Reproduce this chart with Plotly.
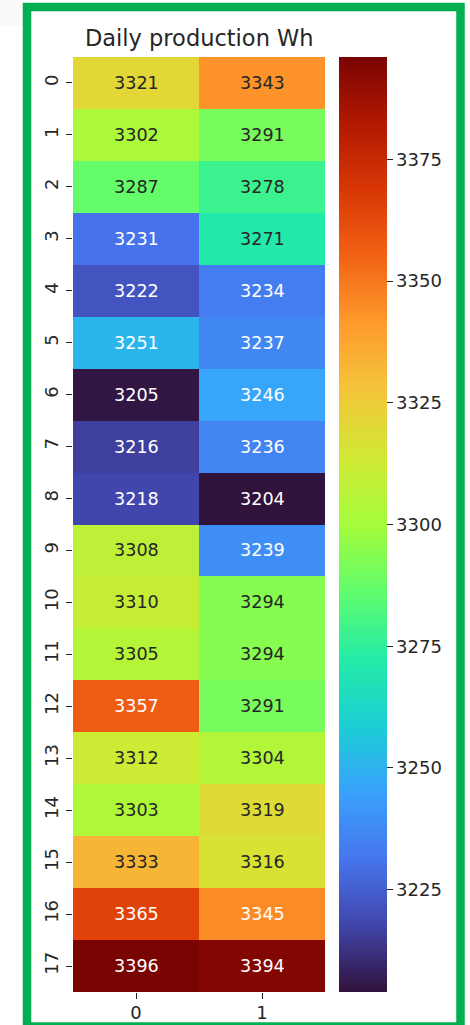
import plotly.graph_objects as go
from plotly.colors import sample_colorscale, sequential

# Daily production (Wh), 18 days x 2 units
days = list(range(18))
units = [0, 1]
unit0 = [3321, 3302, 3287, 3231, 3222, 3251, 3205, 3216, 3218, 3308,
         3310, 3305, 3357, 3312, 3303, 3333, 3365, 3396]
unit1 = [3343, 3291, 3278, 3271, 3234, 3237, 3246, 3236, 3204, 3239,
         3294, 3294, 3291, 3304, 3319, 3316, 3345, 3394]
cbar_ticks = [3225, 3250, 3275, 3300, 3325, 3350, 3375]

z = [[a, b] for a, b in zip(unit0, unit1)]
zmin = min(unit0 + unit1)
zmax = max(unit0 + unit1)

turbo = sequential.Turbo
n = len(turbo)
colorscale = [[i / (n - 1), c] for i, c in enumerate(turbo)]

FONT = "DejaVu Sans"
DARK = "#262626"


def rel_lum(rgb_str):
    vals = rgb_str[rgb_str.index("(") + 1:rgb_str.index(")")].split(",")
    out = []
    for v in vals[:3]:
        c = float(v) / 255.0
        c = c / 12.92 if c <= 0.03928 else ((c + 0.055) / 1.055) ** 2.4
        out.append(c)
    return 0.2126 * out[0] + 0.7152 * out[1] + 0.0722 * out[2]


fig = go.Figure()
fig.add_trace(go.Heatmap(
    z=z, x=units, y=days,
    zmin=zmin, zmax=zmax,
    colorscale=colorscale,
    showscale=True,
    colorbar=dict(
        thickness=48, thicknessmode="pixels",
        len=1, lenmode="fraction",
        x=1.0556, xanchor="left", xpad=0,
        y=0.5, yanchor="middle", ypad=0,
        outlinewidth=0,
        tickvals=cbar_ticks,
        ticks="outside", ticklen=6, tickwidth=1.2, tickcolor=DARK,
        tickfont=dict(family=FONT, size=18, color=DARK),
    ),
    hoverinfo="skip",
))

# Cell value labels, text colour chosen by cell luminance
annotations = []
for r, row in enumerate(z):
    for c, v in enumerate(row):
        col = sample_colorscale(colorscale, [(v - zmin) / (zmax - zmin)])[0]
        if col.startswith("#"):
            h = col.lstrip("#")
            col = "rgb(%d,%d,%d)" % (int(h[0:2], 16), int(h[2:4], 16), int(h[4:6], 16))
        txt_col = DARK if rel_lum(col) > 0.408 else "white"
        annotations.append(dict(
            x=units[c], y=days[r], xref="x", yref="y",
            text=str(v), showarrow=False,
            font=dict(family=FONT, size=17.6, color=txt_col),
        ))

annotations.append(dict(
    x=0.5, y=1, xref="paper", yref="paper",
    xanchor="center", yanchor="bottom", yshift=4,
    text="Daily production Wh", showarrow=False,
    font=dict(family=FONT, size=22.5, color=DARK),
))

L, R, T, B = 73, 325, 57, 992
W, H = 470, 1025


def px(x):
    return (x - L) / (R - L)


def py(y):
    return (B - y) / (B - T)


shapes = [
    dict(type="rect", xref="paper", yref="paper",
         x0=px(0), x1=px(23), y0=py(26), y1=py(0),
         fillcolor="#fafafa", line=dict(width=0), layer="below"),
    dict(type="rect", xref="paper", yref="paper",
         x0=px(27), x1=px(460.5), y0=py(1026.5), y1=py(7),
         fillcolor="rgba(0,0,0,0)", line=dict(color="#00b050", width=8.5),
         layer="below"),
]

fig.update_layout(
    width=W, height=H,
    margin=dict(l=L, r=W - R, t=T, b=H - B, pad=0, autoexpand=False),
    paper_bgcolor="white", plot_bgcolor="white",
    font=dict(family=FONT, color=DARK),
    annotations=annotations,
    shapes=shapes,
    xaxis=dict(
        tickvals=units, ticktext=[str(u) for u in units],
        ticks="outside", ticklen=6, tickwidth=1.2, tickcolor=DARK,
        tickfont=dict(family=FONT, size=18, color=DARK),
        showgrid=False, zeroline=False, showline=False,
        range=[-0.5, 1.5], automargin=False,
        ticklabelstandoff=-2,
    ),
    yaxis=dict(
        tickvals=days, ticktext=[str(d) for d in days],
        ticks="outside", ticklen=6, tickwidth=1.2, tickcolor=DARK,
        tickfont=dict(family=FONT, size=18, color=DARK),
        tickangle=-90,
        showgrid=False, zeroline=False, showline=False,
        range=[17.5, -0.5], automargin=False,
        ticklabelstandoff=1,
    ),
)

fig.write_html("out.html")
